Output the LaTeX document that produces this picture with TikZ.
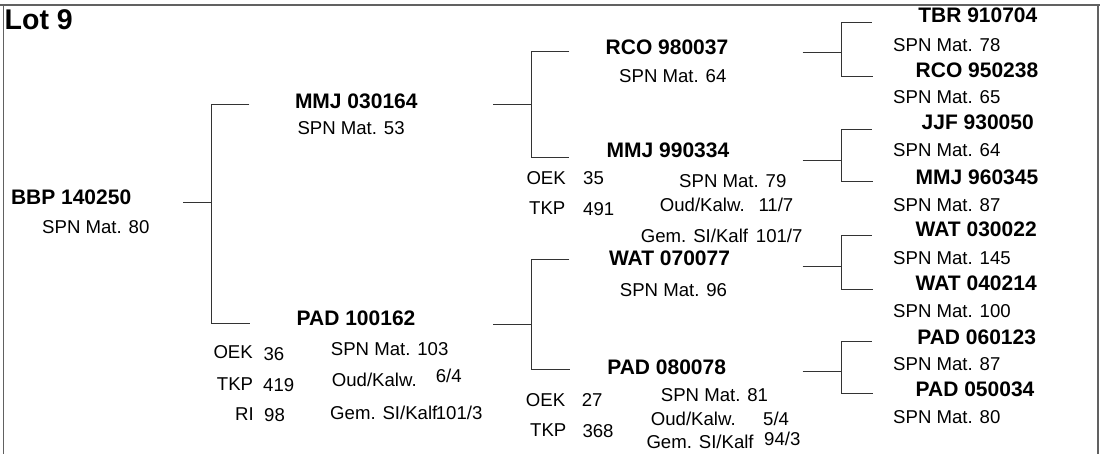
\documentclass[tikz,border=0pt]{standalone}
\usepackage{fontspec}
\setmainfont{Liberation Sans}
\begin{document}
\begin{tikzpicture}[x=1pt,y=-1pt,
  bt/.style={anchor=base west, inner sep=0pt, xshift=-1.2pt, font=\fontsize{21}{21}\selectfont\bfseries},
  rt/.style={anchor=base west, inner sep=0pt, xshift=-1pt, font=\fontsize{18.6}{18.6}\selectfont},
  ttl/.style={anchor=base west, inner sep=0pt, xshift=-1.5pt, font=\fontsize{28.5}{28.5}\selectfont\bfseries},
  conn/.style={draw=black!80, line width=0.9pt},
  frame/.style={draw=black!62, line width=1.6pt}]
\useasboundingbox (0,0) rectangle (1100,454);

% frame
\coordinate (f1) at (0,5);
\coordinate (f2) at (1100,5);
\coordinate (f3) at (3.3,5);
\coordinate (f4) at (3.3,454);
\coordinate (f5) at (1098,5);
\coordinate (f6) at (1098,454);
\draw[frame, line width=2pt] (f1) -- (f2);
\draw[frame] (f3) -- (f4);
\draw[frame] (f5) -- (f6);

\node[ttl] (lot) at (6,30) {Lot 9};

% generation 1
\node[bt] (bbp) at (12,205) {BBP 140250};
\node[rt] (bbps) at (43,234) {SPN Mat. 80};

% generation 2
\node[bt] (mmja) at (296,108.3) {MMJ 030164};
\node[rt] (mmjas) at (298.3,135) {SPN Mat. 53};
\node[bt] (pada) at (297.7,325.7) {PAD 100162};
\node[rt] (padas) at (331.7,355) {SPN Mat. 103};
\node[rt] (padoek) at (214.3,358) {OEK};
\node[rt] (padoekv) at (264.3,360) {36};
\node[rt] (padtkp) at (217.7,390) {TKP};
\node[rt] (padtkpv) at (264,391.7) {419};
\node[rt] (padri) at (236,420) {RI};
\node[rt] (padriv) at (265,421.7) {98};
\node[rt] (padoud) at (332.7,386.7) {Oud/Kalw.};
\node[rt] (padoudv) at (436.7,382.7) {6/4};
\node[rt] (padgem) at (331,419) {Gem. SI/Kalf};
\node[rt] (padgemv) at (436.7,419) {101/3};

% generation 3
\node[bt] (rcoa) at (606.7,55) {RCO 980037};
\node[rt] (rcoas) at (620,82.3) {SPN Mat. 64};
\node[bt] (mmjb) at (607.7,157.7) {MMJ 990334};
\node[rt] (mmjboek) at (527.3,185) {OEK};
\node[rt] (mmjboekv) at (584,185) {35};
\node[rt] (mmjbs) at (680,187.3) {SPN Mat. 79};
\node[rt] (mmjbtkp) at (530,215) {TKP};
\node[rt] (mmjbtkpv) at (584,215.7) {491};
\node[rt] (mmjboud) at (660.7,211.7) {Oud/Kalw.};
\node[rt] (mmjboudv) at (759.3,211.7) {11/7};
\node[rt] (mmjbgem) at (641.7,242.7) {Gem. SI/Kalf};
\node[rt] (mmjbgemv) at (756.7,242.7) {101/7};
\node[bt] (wata) at (610,266) {WAT 070077};
\node[rt] (watas) at (620.7,297) {SPN Mat. 96};
\node[bt] (padb) at (608.3,374) {PAD 080078};
\node[rt] (padboek) at (526.7,406) {OEK};
\node[rt] (padboekv) at (582.7,406) {27};
\node[rt] (padbs) at (661.7,401) {SPN Mat. 81};
\node[rt] (padboud) at (651.7,425) {Oud/Kalw.};
\node[rt] (padboudv) at (764,425) {5/4};
\node[rt] (padbtkp) at (531,436.7) {TKP};
\node[rt] (padbtkpv) at (583.3,437) {368};
\node[rt] (padbgem) at (647.3,448) {Gem. SI/Kalf};
\node[rt] (padbgemv) at (765,445.7) {94/3};

% generation 4
\node[bt] (tbr) at (919.3,22.7) {TBR 910704};
\node[rt] (tbrs) at (894,51.7) {SPN Mat. 78};
\node[bt] (rcob) at (916.7,77.3) {RCO 950238};
\node[rt] (rcobs) at (894,104) {SPN Mat. 65};
\node[bt] (jjf) at (922.7,130) {JJF 930050};
\node[rt] (jjfs) at (894,156.7) {SPN Mat. 64};
\node[bt] (mmjc) at (916.7,185) {MMJ 960345};
\node[rt] (mmjcs) at (894,211.7) {SPN Mat. 87};
\node[bt] (watb) at (916.7,236.7) {WAT 030022};
\node[rt] (watbs) at (894,265) {SPN Mat. 145};
\node[bt] (watc) at (916.7,290.7) {WAT 040214};
\node[rt] (watcs) at (894,317.3) {SPN Mat. 100};
\node[bt] (padc) at (918.3,344) {PAD 060123};
\node[rt] (padcs) at (894,370) {SPN Mat. 87};
\node[bt] (padd) at (916.7,396) {PAD 050034};
\node[rt] (padds) at (894,423.3) {SPN Mat. 80};

% connectors: BBP
\coordinate (a0) at (183,202);
\coordinate (a1) at (211.7,202);
\coordinate (a2) at (211.7,104.3);
\coordinate (a3) at (211.7,323.3);
\coordinate (a4) at (249.3,104.3);
\coordinate (a5) at (250,323.3);
\draw[conn] (a0) -- (a1);
\draw[conn] (a4) -- (a2) -- (a3) -- (a5);

% MMJ 030164
\coordinate (b0) at (493.3,104.3);
\coordinate (b1) at (531.7,104.3);
\coordinate (b2) at (569.3,51.3);
\coordinate (b3) at (531.7,51.3);
\coordinate (b4) at (531.7,157.3);
\coordinate (b5) at (569.3,157.3);
\draw[conn] (b0) -- (b1);
\draw[conn] (b2) -- (b3) -- (b4) -- (b5);

% PAD 100162
\coordinate (c0) at (493.3,324);
\coordinate (c1) at (531.7,324);
\coordinate (c2) at (569.3,259.3);
\coordinate (c3) at (531.7,259.3);
\coordinate (c4) at (531.7,369);
\coordinate (c5) at (570,369);
\draw[conn] (c0) -- (c1);
\draw[conn] (c2) -- (c3) -- (c4) -- (c5);

% RCO 980037
\coordinate (d0) at (802.5,52.3);
\coordinate (d1) at (841,52.3);
\coordinate (d2) at (871.7,22.7);
\coordinate (d3) at (841,22.7);
\coordinate (d4) at (841,76.7);
\coordinate (d5) at (873.3,76.7);
\draw[conn] (d0) -- (d1);
\draw[conn] (d2) -- (d3) -- (d4) -- (d5);

% MMJ 990334
\coordinate (e0) at (802.5,160);
\coordinate (e1) at (841,160);
\coordinate (e2) at (871.7,129);
\coordinate (e3) at (841,129);
\coordinate (e4) at (841,181.7);
\coordinate (e5) at (873.3,181.7);
\draw[conn] (e0) -- (e1);
\draw[conn] (e2) -- (e3) -- (e4) -- (e5);

% WAT 070077
\coordinate (g0) at (802.5,266.3);
\coordinate (g1) at (841,266.3);
\coordinate (g2) at (871.7,235.7);
\coordinate (g3) at (841,235.7);
\coordinate (g4) at (841,289);
\coordinate (g5) at (873.3,289);
\draw[conn] (g0) -- (g1);
\draw[conn] (g2) -- (g3) -- (g4) -- (g5);

% PAD 080078
\coordinate (h0) at (802.5,371.7);
\coordinate (h1) at (841,371.7);
\coordinate (h2) at (871.7,341.7);
\coordinate (h3) at (841,341.7);
\coordinate (h4) at (841,393.3);
\coordinate (h5) at (873.3,393.3);
\draw[conn] (h0) -- (h1);
\draw[conn] (h2) -- (h3) -- (h4) -- (h5);
\end{tikzpicture}
\end{document}
